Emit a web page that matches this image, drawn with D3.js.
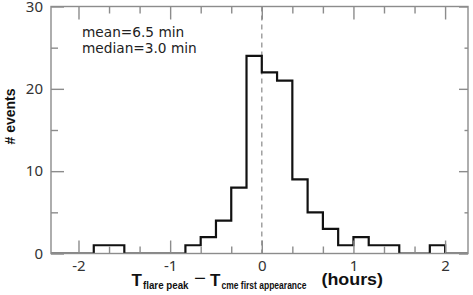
<!DOCTYPE html>
<html>
<head>
<meta charset="utf-8">
<script src="https://cdn.jsdelivr.net/npm/d3@7"></script>
<style>
  html, body { margin: 0; padding: 0; background: #fff; }
  svg { display: block; }
</style>
</head>
<body>
<svg id="chart" width="473" height="295"></svg>
<script>
// ---- data (bin lower edges in minutes, width 10 min; counts) ----
const binStartMin = [-140,-130,-120,-110,-100,-90,-80,-70,-60,-50,-40,-30,-20,-10,
                     0,10,20,30,40,50,60,70,80,90,100,110,120,130];
const counts      = [0,0,0,1,1,0,0,0,0,1,2,4,8,24,
                     22,21,9,5,3,1,2,1,1,0,0,1,0,0];
const binWidthMin = 10;
const xMajorTicks = [-2,-1,0,1,2];
const xMinorTicks = [-5/3,-4/3,-2/3,-1/3,1/3,2/3,4/3,5/3];
const yMajorTicks = [0,10,20,30];
const yMinorTicks = [5,15,25];
const statsLines  = ["mean=6.5 min","median=3.0 min"];

const svg = d3.select("#chart");
const L = 51, R = 468, T = 6.5, B = 253.5;
const x = d3.scaleLinear().domain([-2.3, 2.25]).range([L, R]);
const y = d3.scaleLinear().domain([0, 30]).range([B, T]);

const axisColor = "#8c8c8c";

svg.append("defs").append("clipPath").attr("id","clip")
  .append("rect").attr("x",L).attr("y",T).attr("width",R-L).attr("height",B-T);

// dashed zero line
svg.append("line")
  .attr("x1", x(0)).attr("x2", x(0)).attr("y1", T).attr("y2", B)
  .attr("stroke", "#9a9a9a").attr("stroke-width", 1.4)
  .attr("stroke-dasharray", "5,4");

// histogram step path
const pts = [];
binStartMin.forEach((s, i) => {
  const x0 = s / 60, x1 = (s + binWidthMin) / 60;
  pts.push([x0, counts[i]]);
  pts.push([x1, counts[i]]);
});
const line = d3.line().x(d => x(d[0])).y(d => y(d[1]));
svg.append("path")
  .attr("d", line(pts))
  .attr("clip-path", "url(#clip)")
  .attr("fill", "none").attr("stroke", "#111").attr("stroke-width", 2.2)
  .attr("stroke-linejoin", "miter");

// axes
function styleAxis(g) {
  g.select(".domain").remove();
  g.selectAll(".tick line").attr("stroke", axisColor).attr("stroke-width", 1.4);
  g.selectAll(".tick text").attr("fill", "#333")
    .style("font-family", "'Noto Sans', 'Liberation Sans', sans-serif")
    .style("font-size", "15px");
}
const fmt = d => (d < 0 ? "-" : "") + Math.abs(d);

svg.append("g").attr("transform", `translate(0,${B})`)
  .call(d3.axisBottom(x).tickValues(xMajorTicks).tickSize(-13).tickPadding(7).tickFormat(fmt))
  .call(styleAxis);
svg.append("g").attr("transform", `translate(0,${B})`)
  .call(d3.axisBottom(x).tickValues(xMinorTicks).tickSize(-7).tickFormat(""))
  .call(styleAxis);
svg.append("g").attr("transform", `translate(0,${T})`)
  .call(d3.axisTop(x).tickValues(xMajorTicks).tickSize(-13).tickFormat(""))
  .call(styleAxis);
svg.append("g").attr("transform", `translate(0,${T})`)
  .call(d3.axisTop(x).tickValues(xMinorTicks).tickSize(-7).tickFormat(""))
  .call(styleAxis);
svg.append("g").attr("transform", `translate(${L},0)`)
  .call(d3.axisLeft(y).tickValues(yMajorTicks).tickSize(-13).tickPadding(8).tickFormat(fmt))
  .call(styleAxis);
svg.append("g").attr("transform", `translate(${L},0)`)
  .call(d3.axisLeft(y).tickValues(yMinorTicks).tickSize(-7).tickFormat(""))
  .call(styleAxis);
svg.append("g").attr("transform", `translate(${R},0)`)
  .call(d3.axisRight(y).tickValues(yMajorTicks).tickSize(-9).tickFormat(""))
  .call(styleAxis);
svg.append("g").attr("transform", `translate(${R},0)`)
  .call(d3.axisRight(y).tickValues(yMinorTicks).tickSize(-3.5).tickFormat(""))
  .call(styleAxis);

// frame
svg.append("rect").attr("x", L).attr("y", T).attr("width", R - L).attr("height", B - T)
  .attr("fill", "none").attr("stroke", axisColor).attr("stroke-width", 1.4);

// stats text
svg.selectAll("text.stats").data(statsLines).enter().append("text")
  .attr("class","stats")
  .attr("x", 82).attr("y", (d, i) => 37 + i * 16)
  .attr("fill", "#222")
  .style("font-family", "'DejaVu Sans', sans-serif").style("font-size", "13.7px")
  .text(d => d);

// y label
svg.append("text")
  .attr("transform", "translate(15,116.5) rotate(-90)")
  .attr("text-anchor", "middle")
  .attr("fill", "#111")
  .style("font-family", "'Liberation Sans', Arial, sans-serif")
  .style("font-size", "14px").style("font-weight", "bold")
  .text("# events");

// x label pieces
const bold = "'Liberation Sans', Arial, sans-serif";
function lab(txt, xx, yy, size, len) {
  const t = svg.append("text").attr("x", xx).attr("y", yy).attr("fill", "#111")
    .style("font-family", bold).style("font-size", size + "px").style("font-weight", "bold")
    .text(txt);
  if (len) t.attr("textLength", len).attr("lengthAdjust", "spacingAndGlyphs");
  return t;
}
lab("T", 131.5, 285.5, 17);
lab("flare peak", 143, 288.5, 10.5, 45.5);
svg.append("text").attr("x", 194).attr("y", 284).attr("fill", "#111")
  .style("font-family", bold).style("font-size", "17px").text("\u2212")
  .attr("textLength", 12).attr("lengthAdjust", "spacingAndGlyphs");
lab("T", 210, 285.5, 17);
lab("cme first appearance", 221.5, 288.5, 10.5, 85);
lab("(hours)", 321.5, 285, 17, 61.5);
</script>
</body>
</html>
